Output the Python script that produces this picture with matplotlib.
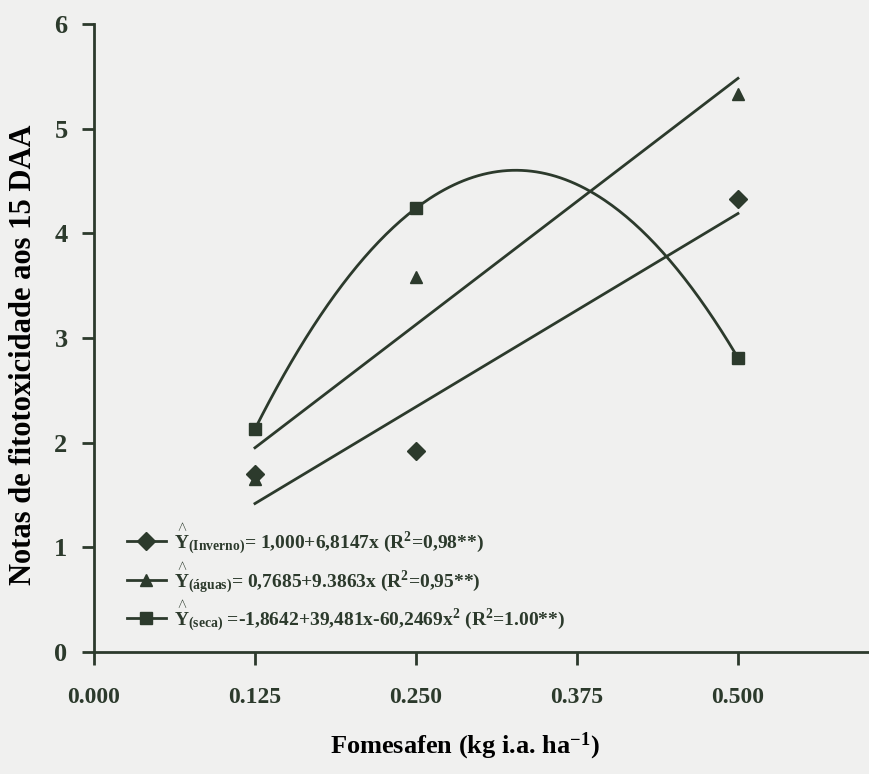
import numpy as np
import matplotlib
matplotlib.use("Agg")
import matplotlib.pyplot as plt
from matplotlib.lines import Line2D

# Fomesafen doses (kg i.a. ha-1) and phytotoxicity scores at 15 DAA
doses = [0.125, 0.250, 0.500]
inverno = [1.70, 1.92, 4.33]
aguas = [1.65, 3.58, 5.33]
seca = [2.13, 4.24, 2.81]

xticks = [0.0, 0.125, 0.25, 0.375, 0.5]
xtick_labels = ["0.000", "0.125", "0.250", "0.375", "0.500"]
yticks = [0, 1, 2, 3, 4, 5, 6]

labels = [
    r"$\overset{\wedge}{\mathrm{Y}}_{(\mathrm{Inverno})}$= 1,000+6,8147x (R$^{2}$=0,98**)",
    r"$\overset{\wedge}{\mathrm{Y}}_{(\mathrm{\'aguas})}$= 0,7685+9.3863x (R$^{2}$=0,95**)",
    r"$\overset{\wedge}{\mathrm{Y}}_{(\mathrm{seca})}$ =-1,8642+39,481x-60,2469x$^{2}$ (R$^{2}$=1.00**)",
]

ink = "#2c3a2c"
bg = "#f0f0ef"

plt.rcParams.update({
    "font.family": ["Liberation Serif", "DejaVu Serif"],
    "font.weight": "bold",
    "mathtext.fontset": "custom",
    "mathtext.rm": "Liberation Serif:bold",
    "mathtext.it": "Liberation Serif:italic:bold",
    "mathtext.bf": "Liberation Serif:bold",
    "text.color": ink,
    "axes.edgecolor": ink,
    "xtick.color": ink,
    "ytick.color": ink,
})

fig = plt.figure(figsize=(8.7, 7.74), dpi=100, facecolor=bg)
ax = fig.add_axes([0.108, 0.1576, 0.892, 0.8114], facecolor=bg)

xs = np.linspace(doses[0], doses[-1], 200)
series = [
    (inverno, 1, "D", 9),
    (aguas, 1, "^", 9),
    (seca, 2, "s", 8.5),
]
handles = []
for y, deg, mk, ms in series:
    coef = np.polyfit(doses, y, deg)
    ax.plot(xs, np.polyval(coef, xs), color=ink, lw=2.0)
    ax.plot(doses, y, linestyle="none", marker=mk, ms=ms, color=ink)
    handles.append(Line2D([], [], color=ink, lw=2.0, marker=mk, ms=ms))

ax.set_xlim(0, 0.6025)
ax.set_ylim(0, 6)
ax.set_xticks(xticks)
ax.set_xticklabels(xtick_labels)
ax.set_yticks(yticks)
for s in ["top", "right"]:
    ax.spines[s].set_visible(False)
for s in ["left", "bottom"]:
    ax.spines[s].set_linewidth(2.0)
ax.spines["left"].set_bounds(0, 6)
ax.tick_params(axis="both", direction="out", length=9, width=2.0)
ax.tick_params(axis="x", pad=16, labelsize=17)
ax.tick_params(axis="y", pad=10, labelsize=19)
for t in ax.get_xticklabels() + ax.get_yticklabels():
    t.set_fontweight("bold")

ax.set_ylabel("Notas de fitotoxicidade aos 15 DAA", fontsize=22, fontweight="bold")
ax.yaxis.set_label_coords(-0.072, 0.473)
ax.set_xlabel(r"Fomesafen (kg i.a. ha$^{\mathregular{-1}}$)", fontsize=19, fontweight="bold")
ax.xaxis.set_label_coords(0.478, -0.125)

leg = ax.legend(handles, labels, loc="lower left", bbox_to_anchor=(0.02, 0.002),
                frameon=False, fontsize=14, handlelength=2.0, handletextpad=0.4,
                labelspacing=0.2)
for t in leg.get_texts():
    t.set_color(ink)

fig.savefig("out.png", dpi=100, facecolor=bg)
